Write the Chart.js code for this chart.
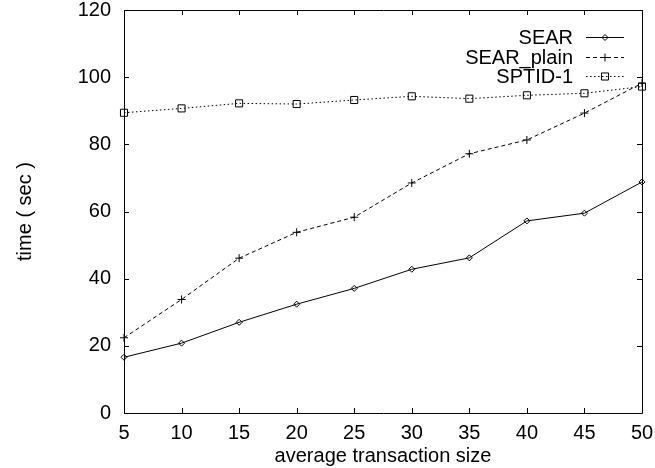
<!DOCTYPE html>
<html><head><meta charset="utf-8">
<script src="https://cdn.jsdelivr.net/npm/chart.js@4/dist/chart.umd.min.js"></script>
<style>html,body{margin:0;padding:0;background:#fff}</style>
</head><body>
<canvas id="c" width="655" height="468" style="display:block;width:655px;height:468px"></canvas>
<script>
const transactionSizes = [5, 10, 15, 20, 25, 30, 35, 40, 45, 50];
const searTimes      = [16.6, 20.8, 27.0, 32.4, 37.1, 42.8, 46.2, 57.2, 59.5, 68.8];
const searPlainTimes = [22.4, 33.8, 46.1, 53.8, 58.3, 68.5, 77.2, 81.3, 89.3, 98.2];
const sptidTimes     = [89.4, 90.7, 92.2, 92.0, 93.2, 94.3, 93.6, 94.6, 95.2, 97.2];
const seriesNames = ['SEAR', 'SEAR_plain', 'SPTID-1'];
const xTicks = [5, 10, 15, 20, 25, 30, 35, 40, 45, 50];
const yTicks = [0, 20, 40, 60, 80, 100, 120];
const xTitle = 'average transaction size';
const yTitle = 'time ( sec )';

const FONT = {family: '"Liberation Sans", Arial, Helvetica, sans-serif', size: 20};

function toXY(vals) { return vals.map((v, i) => ({x: transactionSizes[i], y: v})); }

const PLOT = {left: 124, top: 10, right: 642, bottom: 413};

const frameTicks = {
  id: 'frameTicks',
  afterDatasetsDraw(chart) {
    const ctx = chart.ctx, a = chart.chartArea;
    const xs = chart.scales.x, ys = chart.scales.y;
    ctx.save();
    ctx.strokeStyle = '#000'; ctx.lineWidth = 1; ctx.setLineDash([]);
    ctx.beginPath();
    ctx.rect(Math.round(a.left) + 0.5, Math.round(a.top) + 0.5, Math.round(a.right - a.left), Math.round(a.bottom - a.top));
    const L = 5;
    xTicks.forEach(v => {
      const px = Math.round(xs.getPixelForValue(v)) + 0.5;
      ctx.moveTo(px, a.bottom); ctx.lineTo(px, a.bottom - L);
      ctx.moveTo(px, a.top); ctx.lineTo(px, a.top + L);
    });
    yTicks.forEach(v => {
      const py = Math.round(ys.getPixelForValue(v)) + 0.5;
      ctx.moveTo(a.left, py); ctx.lineTo(a.left + L, py);
      ctx.moveTo(a.right, py); ctx.lineTo(a.right - L, py);
    });
    ctx.stroke();
    ctx.restore();
  }
};

const sideLegend = {
  id: 'sideLegend',
  afterDatasetsDraw(chart) {
    const ctx = chart.ctx;
    const textRight = 573, lineL = 586, lineR = 624, rowY = [37, 56.5, 76];
    ctx.save();
    ctx.font = FONT.size + 'px ' + FONT.family;
    ctx.textAlign = 'right'; ctx.textBaseline = 'middle';
    chart.data.datasets.forEach((ds, i) => {
      const y = Math.round(rowY[i]);
      ctx.fillStyle = '#000';
      ctx.fillText(ds.label, textRight, y + 1);
      ctx.strokeStyle = ds.borderColor; ctx.lineWidth = ds.borderWidth;
      ctx.setLineDash(ds.borderDash || []);
      ctx.beginPath(); ctx.moveTo(lineL, y + 0.5); ctx.lineTo(lineR, y + 0.5); ctx.stroke();
      ctx.setLineDash([]);
      ctx.lineWidth = 1;
      ctx.fillStyle = 'rgba(0,0,0,0)';
      ctx.strokeStyle = '#000';
      Chart.helpers.drawPoint(ctx, {pointStyle: ds.pointStyle, radius: ds.pointRadius, borderWidth: 1, rotation: 0}, (lineL + lineR) / 2, y + 0.5);
    });
    ctx.restore();
  }
};

function zeroPad(s) { s.paddingTop = 0; s.paddingBottom = 0; s.paddingLeft = 0; s.paddingRight = 0; }

const common = {borderColor: '#000', pointBorderColor: '#000', pointBackgroundColor: 'rgba(0,0,0,0)', borderWidth: 1, pointBorderWidth: 1, tension: 0, fill: false, clip: false};

new Chart(document.getElementById('c'), {
  type: 'line',
  data: {
    datasets: [
      Object.assign({label: seriesNames[0], data: toXY(searTimes), pointStyle: 'rectRot', pointRadius: 3, borderDash: []}, common),
      Object.assign({label: seriesNames[1], data: toXY(searPlainTimes), pointStyle: 'cross', pointRadius: 4, borderDash: [4, 3]}, common),
      Object.assign({label: seriesNames[2], data: toXY(sptidTimes), pointStyle: 'rect', pointRadius: 5, borderDash: [1.5, 2.5]}, common)
    ]
  },
  options: {
    responsive: false, animation: false, devicePixelRatio: 1,
    layout: {padding: {left: 0, top: PLOT.top, right: 655 - PLOT.right, bottom: 0}},
    plugins: {legend: {display: false}, tooltip: {enabled: false}},
    scales: {
      x: {
        type: 'linear', min: 5, max: 50,
        afterBuildTicks: s => { s.ticks = xTicks.map(v => ({value: v})); },
        afterFit: s => { s.height = 468 - PLOT.bottom; zeroPad(s); },
        grid: {display: false, drawTicks: false}, border: {display: false},
        ticks: {color: '#000', font: FONT, padding: 8, maxRotation: 0, autoSkip: false},
        title: {display: true, text: xTitle, color: '#000', font: FONT, padding: {top: 0, bottom: 0}}
      },
      y: {
        type: 'linear', min: 0, max: 120,
        afterBuildTicks: s => { s.ticks = yTicks.map(v => ({value: v})); },
        afterFit: s => { s.width = PLOT.left; zeroPad(s); },
        grid: {display: false, drawTicks: false}, border: {display: false},
        ticks: {color: '#000', font: FONT, padding: 13, autoSkip: false},
        title: {display: true, text: yTitle, color: '#000', font: FONT, padding: {top: 13, bottom: 0}}
      }
    }
  },
  plugins: [frameTicks, sideLegend]
});
</script>
</body></html>
